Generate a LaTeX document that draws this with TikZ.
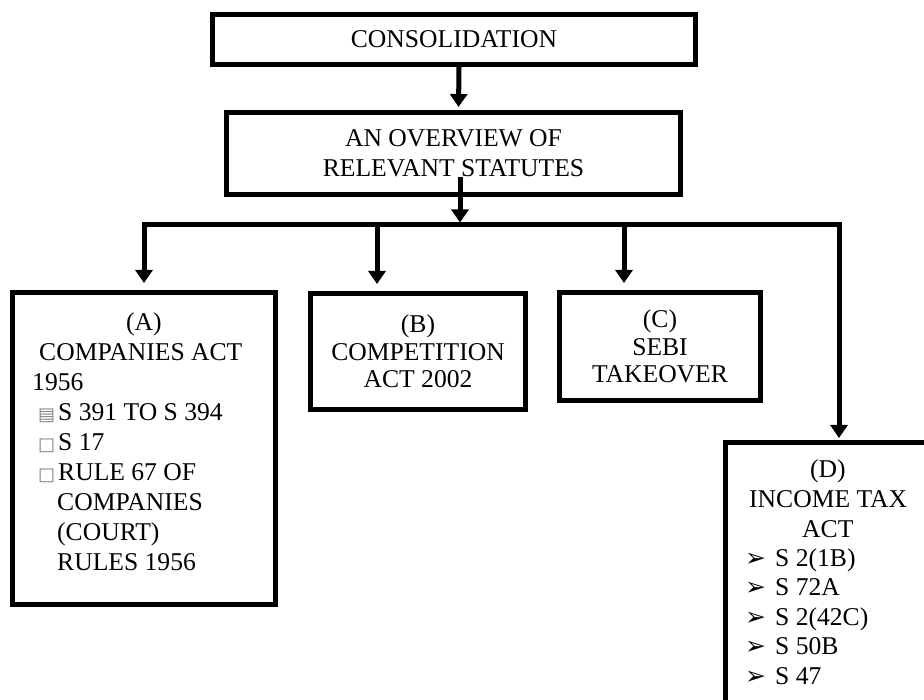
\documentclass[tikz,border=0pt]{standalone}
\usepackage{fontspec}
\setmainfont{Liberation Serif}
\newfontfamily\sym{DejaVu Sans}
\usetikzlibrary{arrows.meta}

\newcommand{\sqbullet}[1]{\hspace*{6pt}\makebox[20pt][l]{\sym\fontsize{18}{18}\selectfont\color{gray}#1}}
\newcommand{\arrbullet}{\makebox[30pt][l]{\sym\fontsize{25}{25}\selectfont ➢}}

\begin{document}
\begin{tikzpicture}[x=1pt, y=-1pt, >={Triangle[length=13pt,width=17pt]},
        font=\fontsize{25.6}{30}\selectfont,
        box/.style={draw, line width=5pt, inner sep=0pt, align=center},
        link/.style={->, line width=5pt}]
        \useasboundingbox (0,0) rectangle (924,700);
        \clip (0,0) rectangle (924,700);

        % Nodes
        \node[box, minimum width=483pt, minimum height=50pt] (cons) at (454,39.5) {CONSOLIDATION};
        \node[box, minimum width=454pt, minimum height=82pt] (over) at (453.5,153.5) {AN OVERVIEW OF\\RELEVANT STATUTES};
        \node[box, minimum width=263pt, minimum height=312pt] (A) at (144,448.5) {};
        \node[box, minimum width=215pt, minimum height=116pt, font=\fontsize{25.6}{27.5}\selectfont] (B) at (418,351.5) {(B)\\COMPETITION\\ACT 2002};
        \node[box, minimum width=201pt, minimum height=108pt, font=\fontsize{25.6}{27.5}\selectfont] (C) at (660,346.5) {(C)\\SEBI\\TAKEOVER};
        \node[box, anchor=north west, minimum width=205pt, minimum height=300pt] (D) at (723,440) {};

        % Box texts
        \node[anchor=base west, text width=240pt, align=flush left, inner sep=0pt] (Atxt) at (32,331)
            {\hspace*{94pt}(A)\\
             \hspace*{7pt}COMPANIES ACT\\
             1956\\
             \sqbullet{▤}S 391 TO S 394\\
             \sqbullet{□}S 17\\
             \sqbullet{□}RULE 67 OF\\
             \hspace*{25pt}COMPANIES\\
             \hspace*{25pt}(COURT)\\
             \hspace*{25pt}RULES 1956};
        \node[anchor=base west, text width=180pt, align=flush left, inner sep=0pt,
              font=\fontsize{25.6}{29.5}\selectfont] (Dtxt) at (745,478)
            {\hspace*{65pt}(D)\\
             \hspace*{4pt}INCOME TAX\\
             \hspace*{57pt}ACT\\
             \arrbullet S 2(1B)\\
             \arrbullet S 72A\\
             \arrbullet S 2(42C)\\
             \arrbullet S 50B\\
             \arrbullet S 47};

        % Bus
        \coordinate (bus) at (460,225);
        \coordinate (busA) at (144,225);
        \coordinate (busB) at (377,225);
        \coordinate (busC) at (624,225);
        \coordinate (busD) at (839,225);

        % Edges
        \draw[link, shorten >=3pt] ([xshift=5pt]cons.south) -- ([xshift=5pt]over.north);
        \draw[link, shorten >=2.5pt] ([xshift=6.5pt,yshift=20pt]over.south) -- (bus);
        \draw[link, shorten >=7pt] (bus) -- (busA) -- (busA |- A.north);
        \draw[link, shorten >=7pt] (busB) -- (busB |- B.north);
        \draw[link, shorten >=7pt] (busC) -- (busC |- C.north);
        \draw[link, shorten >=2pt] (bus) -- (busD) -- (busD |- D.north);
      \end{tikzpicture}
\end{document}
